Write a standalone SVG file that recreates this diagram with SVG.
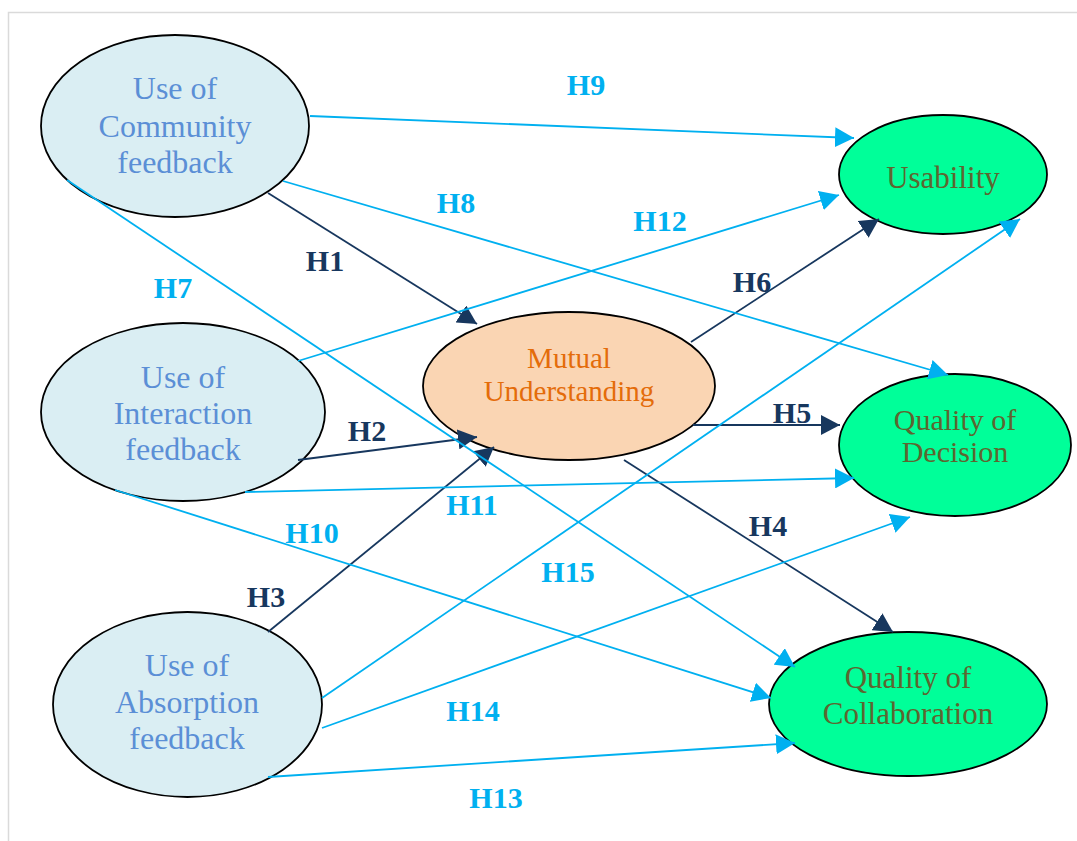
<svg xmlns="http://www.w3.org/2000/svg" width="1077" height="841" viewBox="0 0 1077 841">
  <style>
    .src { fill: #DAEEF3; stroke: #000; stroke-width: 1.8; }
    .mid { fill: #FAD5B3; stroke: #000; stroke-width: 1.8; }
    .out { fill: #00FF99; stroke: #000; stroke-width: 1.8; }
    text { font-family: "Liberation Serif", "Times New Roman", serif; text-anchor: middle; }
    .srcT { fill: #5B8FD6; font-size: 32px; }
    .midT { fill: #E46C0A; font-size: 29px; }
    .outT { fill: #5E6530; font-size: 30px; }
    .outT2 { fill: #5E6530; font-size: 31px; }
    .lblD { fill: #17375E; font-size: 30px; font-weight: bold; }
    .lblL { fill: #00B0F0; font-size: 30px; font-weight: bold; }
    .cD { stroke: #17375E; stroke-width: 1.8; fill: none; marker-end: url(#arrD); }
    .cL { stroke: #00B0F0; stroke-width: 1.8; fill: none; marker-end: url(#arrL); }
  </style>
  <defs>
    <marker id="arrD" markerUnits="userSpaceOnUse" markerWidth="20" markerHeight="20" refX="19" refY="10" orient="auto">
      <path d="M0,0 L19,10 L0,20 Z" fill="#17375E"/>
    </marker>
    <marker id="arrL" markerUnits="userSpaceOnUse" markerWidth="20" markerHeight="20" refX="19" refY="10" orient="auto">
      <path d="M0,0 L19,10 L0,20 Z" fill="#00B0F0"/>
    </marker>
  </defs>

  <rect x="0" y="0" width="1077" height="841" fill="#fff"/>
  <!-- frame -->
  <path d="M8.5,841 L8.5,12.5 L1077,12.5" fill="none" stroke="#DADADA" stroke-width="1.5"/>

  <!-- nodes -->
  <g id="community">
    <ellipse class="src" cx="175" cy="126" rx="134" ry="91"/>
    <text class="srcT" x="175" y="99">Use of</text>
    <text class="srcT" x="175" y="137">Community</text>
    <text class="srcT" x="175" y="173">feedback</text>
  </g>
  <g id="interaction">
    <ellipse class="src" cx="183" cy="412" rx="142" ry="89"/>
    <text class="srcT" x="183" y="388">Use of</text>
    <text class="srcT" x="183" y="424">Interaction</text>
    <text class="srcT" x="183" y="460">feedback</text>
  </g>
  <g id="absorption">
    <ellipse class="src" cx="187.5" cy="704.5" rx="134.5" ry="92.5"/>
    <text class="srcT" x="187" y="676">Use of</text>
    <text class="srcT" x="187" y="713">Absorption</text>
    <text class="srcT" x="187" y="749">feedback</text>
  </g>
  <g id="mutual">
    <ellipse class="mid" cx="569" cy="386" rx="146" ry="74"/>
    <text class="midT" x="569" y="368">Mutual</text>
    <text class="midT" x="569" y="401">Understanding</text>
  </g>
  <g id="usability">
    <ellipse class="out" cx="943" cy="174.5" rx="104" ry="59.5"/>
    <text class="outT2" x="943" y="188">Usability</text>
  </g>
  <g id="decision">
    <ellipse class="out" cx="955" cy="445" rx="116" ry="71"/>
    <text class="outT" x="955" y="430">Quality of</text>
    <text class="outT" x="955" y="462">Decision</text>
  </g>
  <g id="collaboration">
    <ellipse class="out" cx="908" cy="704" rx="139" ry="72"/>
    <text class="outT2" x="908" y="688">Quality of</text>
    <text class="outT2" x="908" y="724">Collaboration</text>
  </g>

  <!-- connectors -->
  <g id="connectors">
    <line class="cD" x1="268" y1="193" x2="477" y2="324"/>
    <line class="cD" x1="298" y1="460" x2="477" y2="437"/>
    <line class="cD" x1="268" y1="632" x2="494" y2="447"/>
    <line class="cD" x1="624" y1="460" x2="893" y2="632"/>
    <line class="cD" x1="693" y1="425" x2="840" y2="425"/>
    <line class="cD" x1="691" y1="342" x2="879" y2="219"/>
    <line class="cL" x1="67" y1="180" x2="795" y2="667"/>
    <line class="cL" x1="283" y1="181" x2="948" y2="375"/>
    <line class="cL" x1="310" y1="116" x2="854" y2="138"/>
    <line class="cL" x1="115" y1="490" x2="771" y2="698"/>
    <line class="cL" x1="245" y1="492" x2="854" y2="478"/>
    <line class="cL" x1="298" y1="361" x2="839" y2="195"/>
    <line class="cL" x1="268" y1="777" x2="795" y2="743"/>
    <line class="cL" x1="322" y1="728" x2="910" y2="517"/>
    <line class="cL" x1="322" y1="698" x2="1020" y2="219"/>
  </g>

  <!-- hypothesis labels -->
  <g id="labels">
    <text class="lblD" x="325" y="271">H1</text>
    <text class="lblD" x="367" y="441">H2</text>
    <text class="lblD" x="266" y="607">H3</text>
    <text class="lblD" x="768" y="536">H4</text>
    <text class="lblD" x="792" y="423">H5</text>
    <text class="lblD" x="752" y="292">H6</text>
    <text class="lblL" x="173" y="298">H7</text>
    <text class="lblL" x="456" y="213">H8</text>
    <text class="lblL" x="586" y="95">H9</text>
    <text class="lblL" x="312" y="543">H10</text>
    <text class="lblL" x="472" y="515">H11</text>
    <text class="lblL" x="660" y="231">H12</text>
    <text class="lblL" x="496" y="808">H13</text>
    <text class="lblL" x="473" y="721">H14</text>
    <text class="lblL" x="568" y="582">H15</text>
  </g>
</svg>
